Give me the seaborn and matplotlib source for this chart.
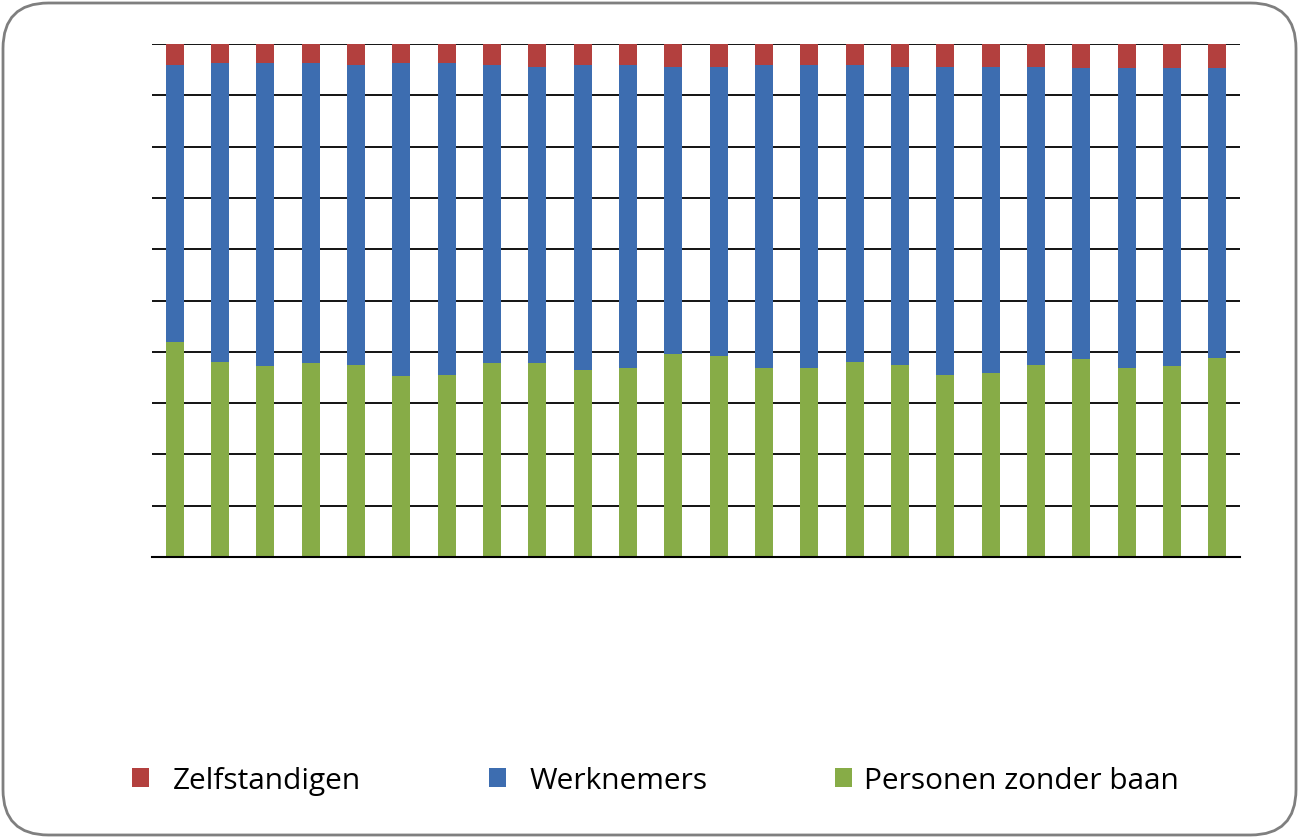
import matplotlib
matplotlib.use("Agg")
import matplotlib.pyplot as plt
import seaborn as sns
import pandas as pd
import numpy as np
from matplotlib.patches import FancyBboxPatch, Patch

sns.set_style("white")
plt.rcParams['font.family'] = ['Open Sans', 'DejaVu Sans']

periods = [str(i) for i in range(1, 25)]
zelfstandigen = [4.0, 3.7, 3.7, 3.7, 4.0, 3.7, 3.7, 4.0, 4.4, 4.0, 4.0, 4.4,
                 4.4, 4.0, 4.0, 4.0, 4.4, 4.4, 4.4, 4.4, 4.7, 4.7, 4.7, 4.7]
werknemers = [54.1, 58.2, 59.1, 58.5, 58.5, 61.1, 60.8, 58.2, 57.8, 59.5, 59.2, 56.1,
              56.5, 59.2, 59.2, 57.9, 58.1, 60.1, 59.7, 58.1, 56.8, 58.5, 58.1, 56.5]
zonder_baan = [41.9, 38.1, 37.2, 37.8, 37.5, 35.2, 35.5, 37.8, 37.8, 36.5, 36.8, 39.5,
               39.1, 36.8, 36.8, 38.1, 37.5, 35.5, 35.9, 37.5, 38.5, 36.8, 37.2, 38.8]

labels = ["Zelfstandigen", "Werknemers", "Personen zonder baan"]
colors = {"Zelfstandigen": "#B3403E", "Werknemers": "#3D6DB0", "Personen zonder baan": "#87AC47"}

df = pd.DataFrame({"periode": periods,
                   "Zelfstandigen": zelfstandigen,
                   "Werknemers": werknemers,
                   "Personen zonder baan": zonder_baan})

fig = plt.figure(figsize=(12.99, 8.38), dpi=100)
ax = fig.add_axes([152/1299, 1-557/838, (1240-152)/1299, (557-44)/838])

# stacked: green at bottom, blue, red on top
g = np.array(zonder_baan)
b = np.array(werknemers)
sns.barplot(data=df, x="periode", y="Personen zonder baan", color=colors["Personen zonder baan"],
            width=0.4, ax=ax, saturation=1, linewidth=0)
sns.barplot(data=df, x="periode", y="Werknemers", color=colors["Werknemers"],
            width=0.4, ax=ax, saturation=1, linewidth=0, bottom=g)
sns.barplot(data=df, x="periode", y="Zelfstandigen", color=colors["Zelfstandigen"],
            width=0.4, ax=ax, saturation=1, linewidth=0, bottom=g + b)

ax.set_ylim(0, 100)
ax.set_xlim(-0.5, len(periods) - 0.5)
ax.set_yticks(np.arange(0, 101, 10))
ax.yaxis.grid(True, color="black", linewidth=1.3)
ax.set_axisbelow(True)
ax.set_yticklabels([])
ax.set_xticklabels([])
ax.tick_params(length=0)
ax.set_xlabel("")
ax.set_ylabel("")
for s in ["left", "right", "top"]:
    ax.spines[s].set_visible(False)
ax.spines["bottom"].set_color("black")
ax.spines["bottom"].set_linewidth(1.5)

fs = 21.5
fs_px = fs * 100 / 72
marker_x = [132, 489, 835]
text_gap = [24, 24, 12]
for lab, mx, gap in zip(labels, marker_x, text_gap):
    fig.legend([Patch(facecolor=colors[lab], edgecolor="none")], [lab],
               loc="center left", bbox_to_anchor=(mx / 1299, 1 - 781 / 838),
               frameon=False, fontsize=fs, labelcolor="black",
               handlelength=17 / fs_px, handleheight=18 / fs_px,
               handletextpad=gap / fs_px, borderpad=0, borderaxespad=0)

border = FancyBboxPatch((3/1299, 3/838), 1293/1299, 832/838,
                        boxstyle="round,pad=0,rounding_size=0.035",
                        transform=fig.transFigure, facecolor="none",
                        edgecolor="#7F7F7F", linewidth=2, mutation_aspect=1299/838)
fig.patches.append(border)

fig.savefig("out.png", dpi=100, facecolor="white")
